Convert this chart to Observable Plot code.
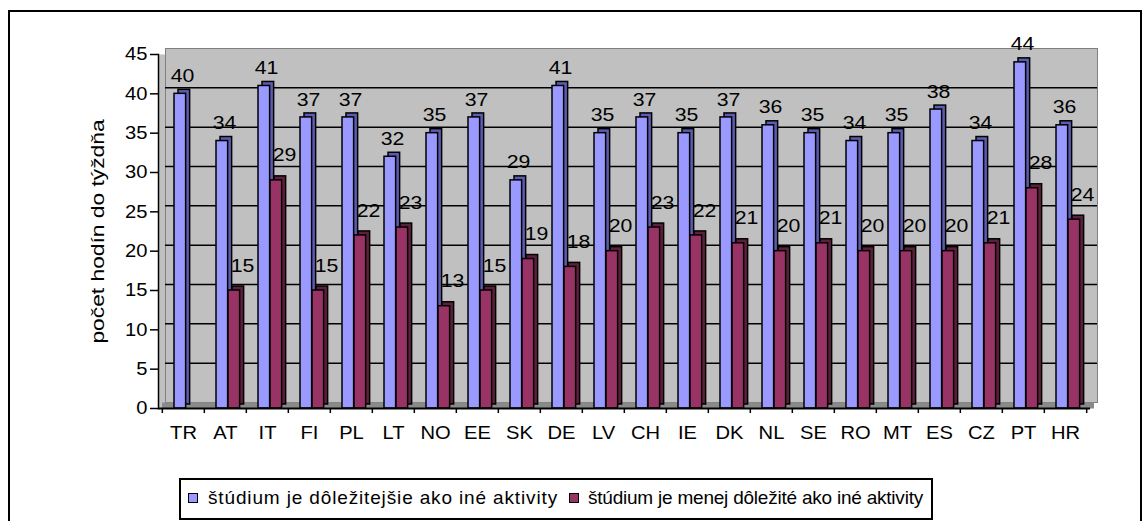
<!DOCTYPE html>
<html><head><meta charset="utf-8">
<script src="https://cdn.jsdelivr.net/npm/d3@7"></script>
<script src="https://cdn.jsdelivr.net/npm/@observablehq/plot@0.6"></script>
<style>
body{margin:0;background:#fff;font-family:"Liberation Sans",Arial,sans-serif;}
#wrap{position:relative;width:1143px;height:521px;overflow:hidden;background:#fff;}
#border{position:absolute;left:8px;top:10px;width:1130px;height:560px;border:2px solid #000;}
#chart{position:absolute;left:0;top:0;}
#legend{position:absolute;left:179px;top:478px;width:750px;height:38px;border:2px solid #000;background:#fff;font-size:19px;color:#000;}
.sw{position:absolute;top:13px;width:8px;height:8px;border:1px solid #000;}
.lt{position:absolute;top:8px;white-space:nowrap;line-height:20px;}
</style>
</head><body>
<div id="wrap">
<div id="border"></div>
<div id="chart"></div>
<div id="legend"></div>
</div>
<script>
const countries = ["TR","AT","IT","FI","PL","LT","NO","EE","SK","DE","LV","CH","IE","DK","NL","SE","RO","MT","ES","CZ","PT","HR"];
const moreImportant = [40,34,41,37,37,32,35,37,29,41,35,37,35,37,36,35,34,35,38,34,44,36];
const lessImportant = [null,15,29,15,22,23,13,15,19,18,20,23,22,21,20,21,20,20,20,21,28,24];
const seriesNames = ["štúdium je dôležitejšie ako iné aktivity","štúdium je menej dôležité ako iné aktivity"];
const yTicks = [0,5,10,15,20,25,30,35,40,45];
const yTitle = "počet hodín do týždňa";

const blueFront = "#9999ff", blueSide = "#5c5cb0";
const redFront = "#993366", redSide = "#5e1f3d";

const width = 1143, height = 470;
const mL = 158, mR = 53;
const bw = (width - mL - mR) / countries.length;

const data = countries.map((c, i) => ({country: c, a: moreImportant[i], b: lessImportant[i]}));
const dataB = data.filter(d => d.b != null);

const d3off = 4;
const chart = Plot.plot({
  width, height,
  marginLeft: mL, marginRight: mR, marginTop: 54, marginBottom: height - 408,
  style: {fontFamily: "'Liberation Sans', Arial, sans-serif", fontSize: "18px", color: "#000", background: "transparent", overflow: "visible"},
  x: {domain: countries, padding: 0, axis: null},
  y: {domain: [0, 45], axis: null},
  marks: [
    Plot.frame({fill: "#c0c0c0"}),
    Plot.frame({fill: "#c0c0c0", stroke: "#808080", dx: 7, dy: -6}),
    Plot.ruleY([0], {stroke: "#8a8a8a", strokeWidth: 6, dx: 4, dy: -3}),
    Plot.ruleY(yTicks.filter(t => t > 0 && t < 45), {stroke: "#000", strokeWidth: 1.5, dx: 7, dy: -6}),
    // series A
    Plot.barY(data, {x: "country", y: "a", insetLeft: 12, insetRight: bw - 24, fill: blueSide, stroke: "#000", strokeWidth: 1.5, dx: d3off, dy: -d3off}),
    Plot.barY(data, {x: "country", y: "a", insetLeft: 12, insetRight: bw - 24, fill: blueFront, stroke: "#000", strokeWidth: 1.5}),
    // series B
    Plot.barY(dataB, {x: "country", y: "b", insetLeft: 24, insetRight: bw - 36, fill: redSide, stroke: "#000", strokeWidth: 1.5, dx: d3off, dy: -d3off}),
    Plot.barY(dataB, {x: "country", y: "b", insetLeft: 24, insetRight: bw - 36, fill: redFront, stroke: "#000", strokeWidth: 1.5}),
    // axes
    Plot.frame({anchor: "left", stroke: "#000", strokeWidth: 1.5}),
    Plot.ruleY([0], {stroke: "#000", strokeWidth: 2}),
    Plot.axisY({ticks: yTicks, tickSize: 8, tickPadding: 3, label: null, strokeWidth: 1.5, fontSize: 18}),
    Plot.axisX({tickSize: 5, tickFormat: () => "", dx: -bw / 2, label: null, strokeWidth: 1.5}),
    Plot.axisX({ticks: [countries[countries.length - 1]], tickSize: 5, tickFormat: () => "", dx: bw / 2, label: null, strokeWidth: 1.5}),
    Plot.axisX({tickSize: 0, tickPadding: 18, label: null, fontSize: 18}),
    Plot.text([yTitle], {frameAnchor: "left", rotate: -90, textAnchor: "middle", dx: -61, fontSize: 19}),
    // value labels
    Plot.text(data, {x: "country", y: "a", text: d => String(d.a), dx: -1, dy: -18, fill: "#000", fontSize: 19}),
    Plot.text(dataB, {x: "country", y: "b", text: d => String(d.b), dx: 17, dy: -25, fill: "#000", fontSize: 19})
  ]
});
// widen glyphs horizontally like the reference rendering
chart.querySelectorAll("text").forEach(t => {
  const tr = t.getAttribute("transform") || "";
  const rotated = /rotate/.test(tr);
  t.setAttribute("transform", tr + (rotated ? " scale(1.2,1)" : " scale(1.12,1)"));
});
document.getElementById("chart").appendChild(chart);

const lg = document.getElementById("legend");
const items = [{name: seriesNames[0], color: blueFront, sw: 7, tx: 27, w: 350}, {name: seriesNames[1], color: redFront, sw: 388, tx: 407, w: 335}];
for (const it of items) {
  const s = document.createElement("div"); s.className = "sw"; s.style.left = it.sw + "px"; s.style.background = it.color; lg.appendChild(s);
  const t = document.createElement("div"); t.className = "lt"; t.style.left = it.tx + "px"; t.textContent = it.name; lg.appendChild(t);
  const w = t.getBoundingClientRect().width;
  if (w > 0) t.style.letterSpacing = ((it.w - w) / it.name.length) + "px";
}
</script>
</body></html>
